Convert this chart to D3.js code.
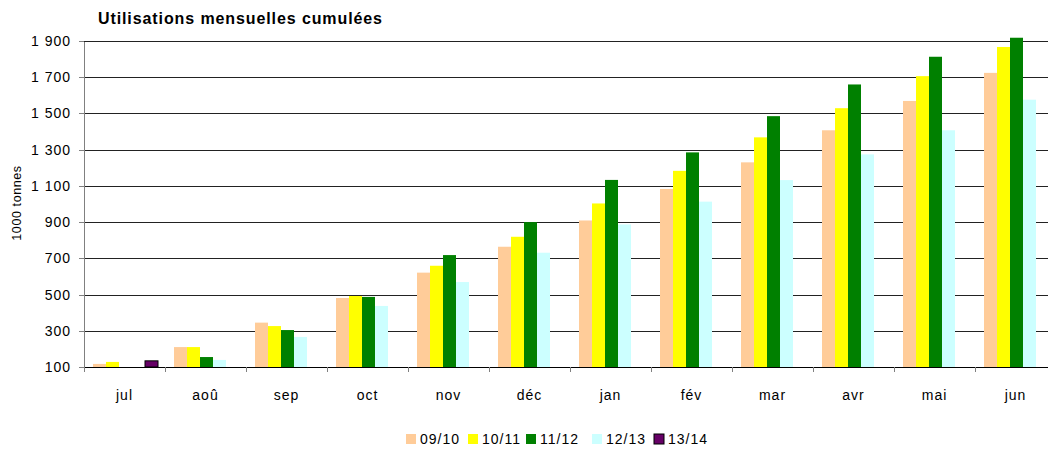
<!DOCTYPE html>
<html>
<head>
<meta charset="UTF-8">
<script src="https://cdn.jsdelivr.net/npm/d3@7"></script>
<style>
  body { margin: 0; background: #fff; }
  svg { font-family: "Liberation Sans", Arial, sans-serif; }
  .grid line { stroke: #222; shape-rendering: crispEdges; }
  .axis path, .axis line { stroke: #808080; shape-rendering: crispEdges; }
  .axis text { font-size: 14px; fill: #000; letter-spacing: 1px; }
</style>
</head>
<body>
<div class="chart"></div>
<script>
// months of the campaign
var months = ["jul", "aoû", "sep", "oct", "nov", "déc", "jan", "fév", "mar", "avr", "mai", "jun"];
var seasons = ["09/10", "10/11", "11/12", "12/13", "13/14"];
var colors = ["#FFCC99", "#FFFF00", "#008000", "#CCFFFF", "#660066"];

// cumulative use, 1000 tonnes (null = no bar)
var s0910 = [117, 210, 345, 481, 621, 764, 909, 1083, 1230, 1407, 1569, 1724];
var s1011 = [128, 210, 326, 492, 659, 819, 1003, 1183, 1368, 1529, 1706, 1867];
var s1112 = [null, 155, 304, 487, 718, 900, 1133, 1285, 1485, 1660, 1813, 1918];
var s1213 = [null, 139, 266, 437, 569, 731, 887, 1013, 1132, 1274, 1407, 1576];
var s1314 = [134, null, null, null, null, null, null, null, null, null, null, null];
var yTicks = [100, 300, 500, 700, 900, 1100, 1300, 1500, 1700, 1900];

var series = [s0910, s1011, s1112, s1213, s1314];

var width = 1048, height = 450;
var plotLeft = 84, plotTop = 41, plotBottom = 367;

var svg = d3.select(".chart").append("svg")
    .attr("width", width)
    .attr("height", height);

var x = d3.scaleBand().domain(months).range([plotLeft, plotLeft + 81 * 12]).padding(0);
var xs = d3.scaleBand().domain(seasons).range([9, 74]).padding(0);
var y = d3.scaleLinear().domain([100, 1900]).range([plotBottom, plotTop]);

// grid
svg.append("g")
    .attr("class", "grid")
  .selectAll("line")
    .data(yTicks.slice(1))
  .enter().append("line")
    .attr("x1", plotLeft)
    .attr("x2", width)
    .attr("y1", function(d) { return Math.round(y(d)) + 0.5; })
    .attr("y2", function(d) { return Math.round(y(d)) + 0.5; });

// bars
var rows = [];
months.forEach(function(m, i) {
  seasons.forEach(function(s, j) {
    var v = series[j][i];
    if (v != null) rows.push({month: m, season: s, value: v, k: j});
  });
});

svg.append("g").selectAll("rect")
    .data(rows)
  .enter().append("rect")
    .attr("x", function(d) { return x(d.month) + xs(d.season); })
    .attr("width", xs.bandwidth())
    .attr("y", function(d) { return y(d.value); })
    .attr("height", function(d) { return y(100) - y(d.value); })
    .style("fill", function(d) { return colors[d.k]; })
    .style("stroke", function(d) { return d.k == 4 ? "#000" : "none"; })
    .style("stroke-width", 1);

// axes
var fmt = function(d) { return d3.format(",")(d).replace(",", " "); };

svg.append("g")
    .attr("class", "axis")
    .attr("transform", "translate(" + plotLeft + ",0)")
    .call(d3.axisLeft(y).tickValues(yTicks).tickFormat(fmt).tickSize(5).tickSizeOuter(0).tickPadding(8));

var xAxis = svg.append("g")
    .attr("class", "axis")
    .attr("transform", "translate(0," + plotBottom + ")");
xAxis.append("line")
    .attr("x1", plotLeft).attr("x2", width)
    .attr("y1", 0.5).attr("y2", 0.5)
    .style("stroke", "#000");
xAxis.selectAll(".tk")
    .data(months)
  .enter().append("line")
    .attr("class", "tk")
    .attr("x1", function(d) { return Math.round(x(d)) + 0.5; })
    .attr("x2", function(d) { return Math.round(x(d)) + 0.5; })
    .attr("y1", 0).attr("y2", 5);
xAxis.selectAll("text")
    .data(months)
  .enter().append("text")
    .attr("x", function(d) { return x(d) + x.bandwidth() / 2; })
    .attr("y", 33)
    .style("text-anchor", "middle")
    .text(function(d) { return d; });

// title and y label
svg.append("text")
    .attr("x", 98)
    .attr("y", 24)
    .style("font-size", "16px")
    .style("font-weight", "bold")
    .style("letter-spacing", "0.9px")
    .text("Utilisations mensuelles cumulées");

svg.append("text")
    .attr("transform", "translate(21,203) rotate(-90)")
    .style("text-anchor", "middle")
    .style("font-size", "12.5px")
    .style("letter-spacing", "0.6px")
    .text("1000 tonnes");

// legend
var legendX = [406, 468, 526, 592, 654];
var legend = svg.append("g").selectAll("g")
    .data(seasons)
  .enter().append("g")
    .attr("transform", function(d, i) { return "translate(" + legendX[i] + ",434)"; });
legend.append("rect")
    .attr("width", 10)
    .attr("height", 10)
    .style("fill", function(d, i) { return colors[i]; })
    .style("stroke", function(d, i) { return i == 4 ? "#000" : "none"; });
legend.append("text")
    .attr("x", 14)
    .attr("y", 10)
    .style("font-size", "14px")
    .style("letter-spacing", "1px")
    .text(function(d) { return d; });
</script>
</body>
</html>
